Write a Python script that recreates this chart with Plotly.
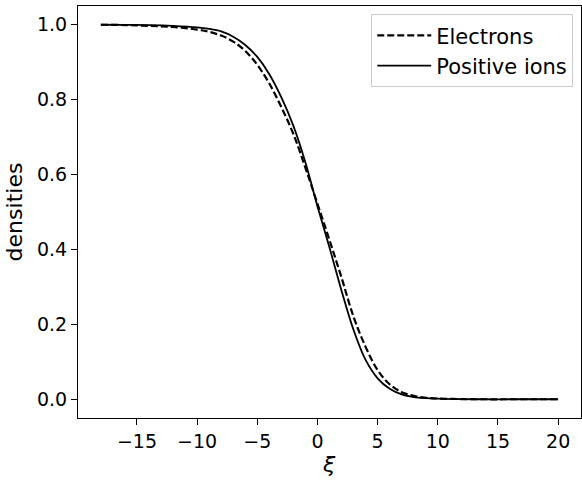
import plotly.graph_objects as go

xi = [-18, -16, -14, -12, -10, -9, -8, -7, -6, -5, -4, -3, -2, -1, 0,
      1, 2, 3, 4, 5, 6, 7, 8, 9, 10, 12, 14, 16, 18, 20]

electrons = [1.000, 0.999, 0.997, 0.994, 0.987, 0.981, 0.971, 0.955, 0.930,
             0.893, 0.843, 0.780, 0.708, 0.618, 0.522, 0.425, 0.325, 0.220,
             0.140, 0.078, 0.040, 0.019, 0.009, 0.004, 0.002, 0.0005, 0.0,
             0.0, 0.0, 0.0]

ions = [1.000, 0.9995, 0.999, 0.997, 0.993, 0.989, 0.982, 0.968, 0.946,
        0.914, 0.868, 0.806, 0.730, 0.632, 0.515, 0.405, 0.290, 0.185,
        0.105, 0.056, 0.028, 0.013, 0.006, 0.003, 0.0015, 0.0003, 0.0,
        0.0, 0.0, 0.0]

x_ticks = [-15, -10, -5, 0, 5, 10, 15, 20]
x_ticktext = ["\u221215", "\u221210", "\u22125", "0", "5", "10", "15", "20"]
y_ticks = [0.0, 0.2, 0.4, 0.6, 0.8, 1.0]
y_ticktext = ["0.0", "0.2", "0.4", "0.6", "0.8", "1.0"]

fig = go.Figure()
fig.add_trace(go.Scatter(x=xi, y=electrons, mode="lines", name="Electrons",
                         line=dict(color="black", width=2.2, dash="7px,3px",
                                   shape="spline", smoothing=1.0)))
fig.add_trace(go.Scatter(x=xi, y=ions, mode="lines", name="Positive ions",
                         line=dict(color="black", width=1.8,
                                   shape="spline", smoothing=1.0)))

axis_common = dict(showgrid=False, zeroline=False, showline=True,
                   linecolor="black", linewidth=1, mirror=True,
                   ticks="outside", ticklen=6, tickwidth=1, tickcolor="black",
                   automargin=False,
                   tickfont=dict(family="DejaVu Sans", size=19, color="black"))

fig.update_layout(
    width=582, height=480,
    margin=dict(l=78, r=1, t=6, b=62),
    paper_bgcolor="white", plot_bgcolor="white",
    font=dict(family="DejaVu Sans", size=19, color="black"),
    xaxis=dict(range=[-19.9, 21.9], tickvals=x_ticks, ticktext=x_ticktext,
               **axis_common),
    yaxis=dict(range=[-0.05, 1.05], tickvals=y_ticks, ticktext=y_ticktext,
               title=dict(text="densities", font=dict(size=22), standoff=8),
               **axis_common),
    legend=dict(x=0.583, y=0.98, xanchor="left", yanchor="top",
                bordercolor="#cccccc", borderwidth=1, bgcolor="white",
                font=dict(family="DejaVu Sans", size=21),
                itemwidth=54, tracegroupgap=0),
    showlegend=True,
    annotations=[dict(text="<i>ξ</i>", xref="paper", yref="paper",
                      x=0.499, y=-0.114, xanchor="center", yanchor="middle",
                      showarrow=False,
                      font=dict(family="DejaVu Sans", size=22, color="black"))],
)

fig.write_html("out.html",
               config={"displayModeBar": False},
               post_script="document.body.style.margin='0px';"
                           "document.body.style.overflow='hidden';")
